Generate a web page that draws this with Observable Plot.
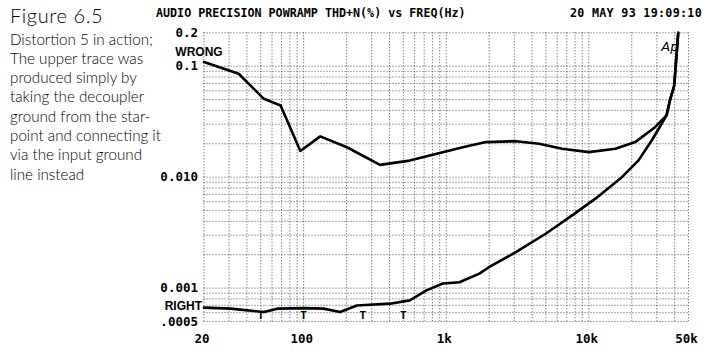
<!DOCTYPE html>
<html><head><meta charset="utf-8">
<script src="https://cdn.jsdelivr.net/npm/d3@7"></script>
<script src="https://cdn.jsdelivr.net/npm/@observablehq/plot@0.6"></script>
<style>
body{margin:0;background:#fff;}
#wrap{position:relative;width:716px;height:356px;overflow:hidden;background:#fff}
#wrap svg{position:absolute;left:0;top:0}
.hdr{position:absolute;top:6px;font-family:"DejaVu Sans Mono",monospace;font-weight:bold;font-size:11.7px;color:#000;white-space:pre;line-height:14px}
</style></head><body><div id="wrap"></div>
<script>
// ---- data ----
const captionTitle = "Figure 6.5";
const captionLines = ["Distortion 5 in action;","The upper trace was","produced simply by","taking the decoupler","ground from the star-","point and connecting it","via the input ground","line instead"];
const titleText = "AUDIO PRECISION POWRAMP THD+N(%) vs FREQ(Hz)";
const dateText = "20 MAY 93 19:09:10";
const seriesNames = ["WRONG","RIGHT"];
const wrongFreq = [20,35,52.6,68.9,94.8,130.7,201,343,554,765,1306,1901,3077,4477,6505,10000,15350,21150,29120,35060,37040,39700,42350];
const wrongThd  = [0.109,0.0855,0.0508,0.0443,0.0172,0.0233,0.0186,0.0129,0.0141,0.0157,0.0186,0.0207,0.0211,0.0200,0.0180,0.0168,0.0180,0.0207,0.0282,0.036,0.0491,0.067,0.2];
const rightFreq = [20,30.8,52.6,65.4,100,137.8,180,236,403,555,726,947,1238,1708,2003,3077,4980,7635,11120,17050,22300,27600,32400,35060,37040,39700,42350];
const rightThd  = [0.000667,0.000653,0.000608,0.000653,0.00066,0.000653,0.000608,0.000698,0.000724,0.000775,0.000953,0.0011,0.00113,0.00135,0.00155,0.00211,0.00309,0.00452,0.0064,0.0100,0.01416,0.0214,0.0303,0.036,0.0491,0.067,0.2];
const xTickValues = [20,100,1000,10000,50000];
const xTickLabels = ["20","100","1k","10k","50k"];
const yTickValues = [0.2,0.1,0.01,0.001,0.0005];
const yTickLabels = ["0.2","0.1","0.010","0.001",".0005"];
const markerFreq = [50,100,260,500];
const markerLevel = 0.00057;
const logoText = "Ap";

// ---- build ----
const wrap = document.getElementById("wrap");
const rows = [];
wrongFreq.forEach((f,i)=>rows.push({series:seriesNames[0],f,v:wrongThd[i]}));
rightFreq.forEach((f,i)=>rows.push({series:seriesNames[1],f,v:rightThd[i]}));
const firsts = [
  {series:seriesNames[0], f:wrongFreq[0], v:wrongThd[0]},
  {series:seriesNames[1], f:rightFreq[0], v:rightThd[0]}
];
const xTicks = xTickValues.map((v,i)=>({v, label:xTickLabels[i]}));
const yTicks = yTickValues.map((v,i)=>({v, label:yTickLabels[i]}));
const xDomain=[20,50000], yDomain=[0.0005,0.2];
const xGrid = d3.scaleLog().domain(xDomain).ticks();
const yGrid = d3.scaleLog().domain(yDomain).ticks();
const gridStyle = {stroke:"#111",strokeOpacity:0.75,strokeDasharray:"1,2",strokeWidth:1};
const mono = "'DejaVu Sans Mono', monospace";

const chart = Plot.plot({
  width:716, height:356,
  marginLeft:203.5, marginRight:28, marginTop:32.3, marginBottom:35,
  style:{fontFamily:mono, fontWeight:"bold", fontSize:"11.7px", color:"#000", background:"transparent"},
  x:{type:"log", domain:xDomain, axis:null},
  y:{type:"log", domain:yDomain, axis:null},
  marks:[
    Plot.gridX(xGrid, gridStyle),
    Plot.gridY(yGrid, gridStyle),
    Plot.text(xTicks, {x:"v", text:"label", frameAnchor:"bottom", lineAnchor:"middle", dy:17, dx:-2, fontSize:12.5, fontFamily:mono, fontWeight:"bold"}),
    Plot.text(yTicks, {y:"v", text:"label", frameAnchor:"left", textAnchor:"end", dx:-6, fontSize:12.5, fontFamily:mono, fontWeight:"bold"}),
    Plot.line(rows, {x:"f", y:"v", z:"series", stroke:"#000", strokeWidth:2.6, strokeLinejoin:"round"}),
    Plot.text(firsts.slice(0,1), {x:"f", y:"v", text:"series", textAnchor:"middle", dx:-5, dy:-10, fontFamily:"'Liberation Sans', Arial, sans-serif", fontWeight:"bold", fontSize:12}),
    Plot.text(firsts.slice(1), {x:"f", y:"v", text:"series", textAnchor:"end", dx:-2, dy:-1, fontFamily:"'Liberation Sans', Arial, sans-serif", fontWeight:"bold", fontSize:12}),
    Plot.text(markerFreq, {x:d=>d, y:()=>markerLevel, text:()=>"T", fontSize:11, fontFamily:mono, fontWeight:"bold"}),
    Plot.text([logoText], {frameAnchor:"top-right", text:d=>d, dx:-10, dy:9, fontStyle:"italic", fontWeight:"normal", fontFamily:"'DejaVu Sans', sans-serif", fontSize:13})
  ]
});
wrap.appendChild(chart);

// header texts
const t = document.createElement("div"); t.className="hdr"; t.style.left="156px"; t.textContent=titleText; wrap.appendChild(t);
const dt = document.createElement("div"); dt.className="hdr"; dt.style.right="14px"; dt.style.letterSpacing="0.3px"; dt.textContent=dateText; wrap.appendChild(dt);

// caption
const cap = d3.select(wrap).append("svg").attr("width",200).attr("height",200).style("font-family","Lato, 'Open Sans', sans-serif").style("font-weight",300);
cap.append("text").attr("x",10).attr("y",23).attr("font-size",20).attr("letter-spacing",0.6).text(captionTitle);
captionLines.forEach((s,i)=>{
  cap.append("text").attr("x",10).attr("y",44.5+i*19.3).attr("font-size",15.2).text(s);
});
</script></body></html>
